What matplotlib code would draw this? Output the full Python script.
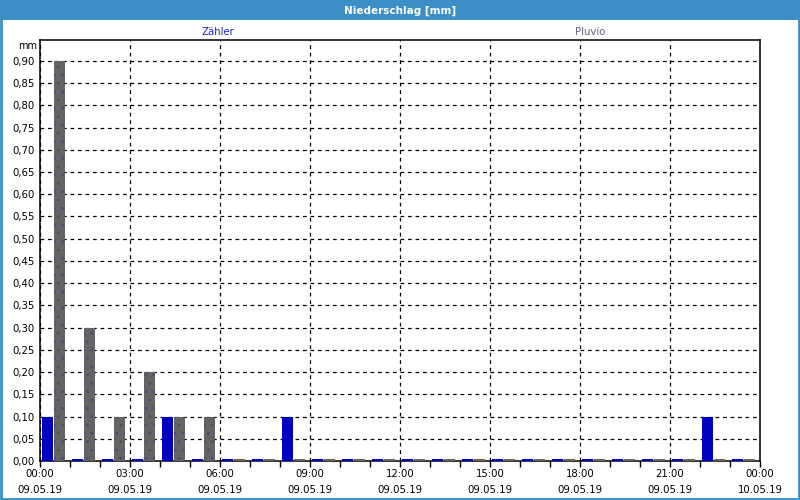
import matplotlib.pyplot as plt
from matplotlib.patches import Rectangle
from matplotlib.ticker import MultipleLocator, FuncFormatter
import numpy as np

# Stunden 00:00 .. 23:00 am 09.05.19
stunden = np.arange(24)
zaehler = [0.10, 0, 0, 0, 0.10, 0, 0, 0, 0.10, 0, 0, 0,
           0, 0, 0, 0, 0, 0, 0, 0, 0, 0, 0.10, 0]
pluvio = [0.90, 0.30, 0.10, 0.20, 0.10, 0.10, 0, 0, 0, 0, 0, 0,
          0, 0, 0, 0, 0, 0, 0, 0, 0, 0, 0, 0]
tick_stunden = [0, 3, 6, 9, 12, 15, 18, 21, 24]
tick_labels = ["00:00\n09.05.19", "03:00\n09.05.19", "06:00\n09.05.19",
               "09:00\n09.05.19", "12:00\n09.05.19", "15:00\n09.05.19",
               "18:00\n09.05.19", "21:00\n09.05.19", "00:00\n10.05.19"]

BLAU_RAHMEN = "#3c8fc6"
MIN_HOEHE = 0.005  # Nullwerte als schmaler Strich sichtbar
plt.rcParams["font.family"] = ["DejaVu Sans"]
plt.rcParams["hatch.linewidth"] = 0.8

fig = plt.figure(figsize=(8, 5), dpi=100)
fig.patch.set_facecolor("white")

# Titelleiste + Rahmen
fig.patches.append(Rectangle((0, 0.96), 1, 0.04, transform=fig.transFigure,
                             facecolor=BLAU_RAHMEN, edgecolor="none", zorder=0))
fig.patches.append(Rectangle((0.0012, 0.002), 0.9976, 0.996, transform=fig.transFigure,
                             facecolor="none", edgecolor=BLAU_RAHMEN, linewidth=2, zorder=0))
fig.text(0.5, 0.979, "Niederschlag [mm]", color="white", fontsize=7.5,
         fontweight="bold", ha="center", va="center")

ax = fig.add_axes([0.05, 0.078, 0.90, 0.842])

z_h = np.maximum(zaehler, MIN_HOEHE)
p_h = np.maximum(pluvio, MIN_HOEHE)
b = 0.36
ax.bar(stunden + 0.07, z_h, width=b, align="edge", color="#0000c0",
       edgecolor="none", zorder=3)
ax.bar(stunden + 0.47, p_h, width=b, align="edge", color="#646464",
       edgecolor="none", zorder=3)
# Punktmuster auf Pluvio-Balken
ax.bar(stunden + 0.47, pluvio, width=b, align="edge", color="none",
       edgecolor="#4a4a78", hatch="..", linewidth=0, zorder=4)

ax.set_xlim(0, 24)
ax.set_ylim(0, 0.947)
ax.set_xticks(tick_stunden)
ax.set_xticklabels(tick_labels, fontsize=7.3, linespacing=1.7)
ax.xaxis.set_minor_locator(MultipleLocator(1))
ax.tick_params(axis="x", which="both", direction="out", length=4, width=1, pad=2)
ax.yaxis.set_major_locator(MultipleLocator(0.05))
ax.yaxis.set_major_formatter(FuncFormatter(lambda v, p: f"{v:.2f}".replace(".", ",")))
ax.tick_params(axis="y", length=0, pad=4, labelsize=7.3)

ax.grid(True, which="major", color="black", linestyle=(0, (3, 3)), linewidth=0.9, zorder=1)
ax.set_axisbelow(True)
for s in ax.spines.values():
    s.set_linewidth(1.1)
    s.set_color("black")

fig.text(0.035, 0.908, "mm", fontsize=7, ha="center", va="center")
fig.text(0.2725, 0.936, "Zähler", fontsize=7.3, color="#2222dd", ha="center", va="center")
fig.text(0.7375, 0.936, "Pluvio", fontsize=7.3, color="#666688", ha="center", va="center")

plt.savefig("out.png", dpi=100)
